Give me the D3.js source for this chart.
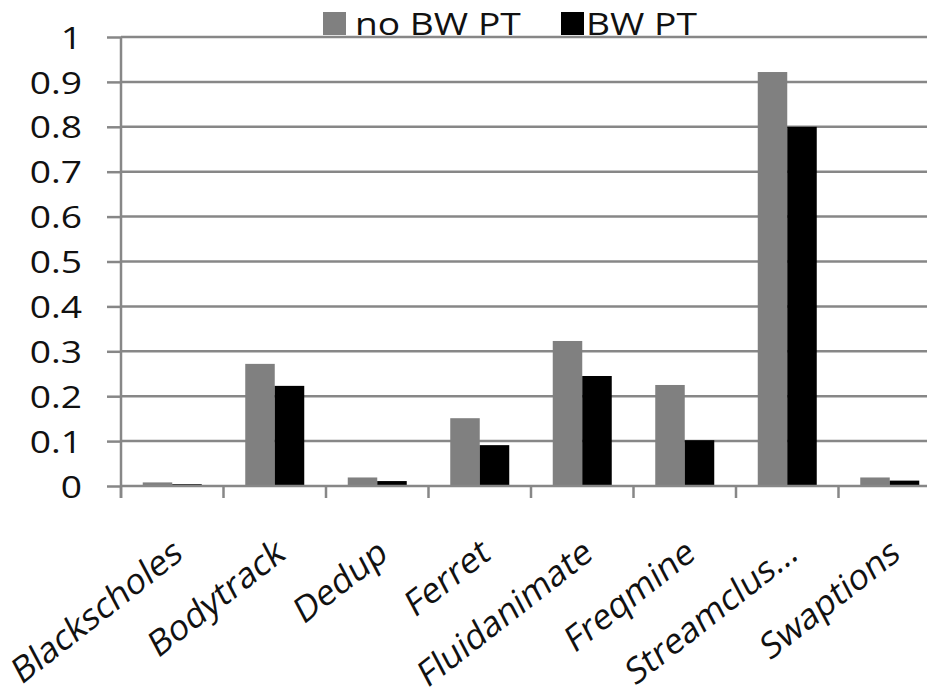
<!DOCTYPE html>
<html>
<head>
<meta charset="utf-8">
<script src="https://cdn.jsdelivr.net/npm/d3@7/dist/d3.min.js"></script>
<style>
  html, body { margin: 0; padding: 0; background: #fff; }
  svg { display: block; }
  text { font-family: "Open Sans", "Noto Sans", sans-serif; fill: #111; }
</style>
</head>
<body>
<svg id="chart" width="927" height="697"></svg>
<script>
const categories = ["Blackscholes", "Bodytrack", "Dedup", "Ferret", "Fluidanimate", "Freqmine", "Streamclus...", "Swaptions"];
const seriesNames = ["no BW PT", "BW PT"];
const noBwPt = [0.008, 0.272, 0.019, 0.151, 0.323, 0.225, 0.922, 0.019];
const bwPt   = [0.004, 0.223, 0.011, 0.091, 0.245, 0.102, 0.800, 0.012];
const yTicks = [0, 0.1, 0.2, 0.3, 0.4, 0.5, 0.6, 0.7, 0.8, 0.9, 1];
const colors = ["#808080", "#000000"];

const svg = d3.select("#chart");
const x0 = 121, yBase = 486, yTop = 37, bandW = 102.5;
const stretch = 1.2;      // horizontal stretch of upright glyphs seen in the reference

const x = d3.scaleBand().domain(categories).range([x0, x0 + bandW * categories.length]).padding(0);
const y = d3.scaleLinear().domain([0, 1]).range([yBase, yTop]);
const barW = 29.5;
const xs = d3.scaleBand().domain(seriesNames).range([0, barW * 2]).padding(0);

// gridlines
svg.append("g").selectAll("line").data(yTicks.filter(d => d > 0)).join("line")
  .attr("x1", x0).attr("x2", 927)
  .attr("y1", d => y(d)).attr("y2", d => y(d))
  .attr("stroke", "#878787").attr("stroke-width", 2.5);

// y axis
const yAxis = d3.axisLeft(y).tickValues(yTicks).tickSize(14).tickPadding(0)
  .tickFormat(d => d3.format("")(d));
const gy = svg.append("g").attr("transform", `translate(${x0},0)`).call(yAxis);
gy.select(".domain").attr("stroke", "#878787").attr("stroke-width", 2.5)
  .attr("d", `M0,${yBase + 12}V${yTop}`);
gy.selectAll(".tick line").attr("stroke", "#878787").attr("stroke-width", 2.5);
gy.selectAll(".tick text")
  .attr("x", 0)
  .attr("transform", `translate(-39,0) scale(${stretch},1)`)
  .attr("font-size", 31).attr("font-family", "Open Sans")
  .attr("fill", "#14142a").attr("dy", "0.36em");

// bars
const data = categories.map((c, i) => ({ c, vals: [noBwPt[i], bwPt[i]] }));
const groups = svg.append("g").selectAll("g").data(data).join("g")
  .attr("transform", d => `translate(${x(d.c) + x.bandwidth() / 2 - barW},0)`);
groups.selectAll("rect").data(d => d.vals.map((v, j) => ({ v, s: seriesNames[j], j })))
  .join("rect")
  .attr("x", d => xs(d.s))
  .attr("width", xs.bandwidth())
  .attr("y", d => y(d.v))
  .attr("height", d => yBase - y(d.v))
  .attr("fill", d => colors[d.j]);

// x axis
const xAxis = d3.axisBottom(x).tickSize(0).tickFormat("");
const gx = svg.append("g").attr("transform", `translate(0,${yBase})`).call(xAxis);
gx.select(".domain").attr("stroke", "#878787").attr("stroke-width", 2.5).attr("d", `M${x0},0H927`);
svg.append("g").selectAll("line").data(categories).join("line")
  .attr("x1", d => x(d)).attr("x2", d => x(d))
  .attr("y1", yBase).attr("y2", yBase + 12)
  .attr("stroke", "#878787").attr("stroke-width", 2.5);

// slanted category labels: baseline at ~38deg, glyph stems leaning to ~62deg
const alpha = 38 * Math.PI / 180, beta = 62 * Math.PI / 180;
const ma = Math.cos(alpha), mb = -Math.sin(alpha), mc = Math.cos(beta), md = Math.sin(beta);
svg.append("g").selectAll("text").data(categories).join("text")
  .attr("transform", d => `matrix(${ma},${mb},${mc},${md},${x(d) + x.bandwidth() / 2 + 12},558)`)
  .attr("text-anchor", "end")
  .attr("font-size", 35)
  .attr("fill", "#141414")
  .text(d => d);

// legend
const legend = svg.append("g");
const legSq = [323, 561];
const legTx = [355, 586];
seriesNames.forEach((s, i) => {
  legend.append("rect").attr("x", legSq[i]).attr("y", 12).attr("width", 23).attr("height", 23).attr("fill", colors[i]);
  legend.append("text").attr("transform", `translate(${legTx[i]},35) scale(${stretch},1)`)
    .attr("font-size", 31).attr("fill", "#14142a").text(s);
});
</script>
</body>
</html>
